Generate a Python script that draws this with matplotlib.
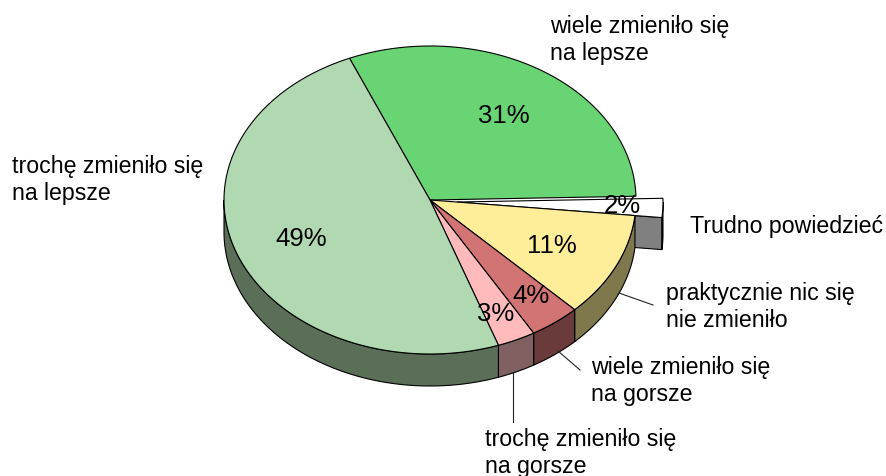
import numpy as np
import matplotlib
matplotlib.use('Agg')
import matplotlib.pyplot as plt
from matplotlib.patches import Polygon

plt.rcParams['font.family'] = ['Liberation Sans', 'DejaVu Sans']

# clockwise from the top edge of the big green slice
labels = ['wiele zmieniło się\nna lepsze', 'Trudno powiedzieć', 'praktycznie nic się\nnie zmieniło',
          'wiele zmieniło się\nna gorsze', 'trochę zmieniło się\nna gorsze', 'trochę zmieniło się\nna lepsze']
values = [31, 2, 11, 4, 3, 49]
pct_labels = ['31%', '2%', '11%', '4%', '3%', '49%']
top_colors = ['#69D474', '#FFFFFF', '#FFEE99', '#D27474', '#FFBBBB', '#B1D9B1']
side_colors = ['#356A3A', '#808080', '#7F784D', '#6B3A3A', '#806060', '#5A6E58']

# pie geometry in pixels
cx, cy = 430, 200
rx, ry = 206, 154
depth = 32
start = 113.0
explode = {1: 27}

label_pos = [(550, 40), (690, 226), (666, 307), (591, 381), (485, 453), (12, 180)]
pct_pos = [(504, 116), (622, 206), (552, 246), (531, 296), (496, 314), (301, 239)]
leaders = [None, None, ((619, 293), (653, 305)), ((558, 351), (580, 370)), ((513, 373), (513, 422)), None]

fig = plt.figure(figsize=(8.87, 4.76), dpi=100)
ax = fig.add_axes([0, 0, 1, 1])
ax.set_xlim(0, 887)
ax.set_ylim(476, 0)
ax.axis('off')


def arc(a0, a1, x0=cx, y0=cy):
    t = np.radians(np.linspace(a0, a1, 120))
    return np.column_stack([x0 + rx * np.cos(t), y0 - ry * np.sin(t)])


def draw_top(a0, a1, color, x0=cx, y0=cy, z=3):
    pts = np.vstack([[x0, y0], arc(a0, a1, x0, y0)])
    ax.add_patch(Polygon(pts, closed=True, fc=color, ec='black', lw=0.8, zorder=z))


def draw_wall(a0, a1, color, x0=cx, y0=cy, z=2):
    # only the part of the rim on the front of the pie shows
    lo, hi = max(a1, -180), min(a0, 0)
    if lo >= hi:
        return
    pts = arc(hi, lo, x0, y0)
    low = pts[::-1] + [0, depth]
    ax.add_patch(Polygon(np.vstack([pts, low]), closed=True, fc=color, ec='black', lw=0.8, zorder=z))


a0 = start
for i, v in enumerate(values):
    a1 = a0 - v * 3.6
    if i in explode:
        # pulled out slice sits behind the rest, its cut face is what shows
        mid = np.radians((a0 + a1) / 2)
        x0 = cx + explode[i] * np.cos(mid)
        y0 = cy - explode[i] * np.sin(mid) + 1
        rim = arc(a1, a1, x0, y0)[0]
        face = [[x0, y0], rim, rim + [0, depth], [x0, y0 + depth]]
        ax.add_patch(Polygon(face, closed=True, fc=side_colors[i], ec='black', lw=0.8, zorder=1))
        draw_wall(a0, a1, side_colors[i], x0, y0, z=1)
        draw_top(a0, a1, top_colors[i], x0, y0, z=1.5)
    else:
        draw_wall(a0, a1, side_colors[i])
        draw_top(a0, a1, top_colors[i])
    a0 = a1

for i in range(len(values)):
    ax.text(label_pos[i][0], label_pos[i][1], labels[i], fontsize=16.7, ha='left', va='center',
            linespacing=1.22, color='black', zorder=6)
    ax.text(pct_pos[i][0], pct_pos[i][1], pct_labels[i], fontsize=18.5, ha='center', va='center',
            color='black', zorder=6)
    if leaders[i] is not None:
        (x1, y1), (x2, y2) = leaders[i]
        ax.plot([x1, x2], [y1, y2], color='#222222', lw=0.8, zorder=5)

fig.savefig('out.png', dpi=100, facecolor='white')
